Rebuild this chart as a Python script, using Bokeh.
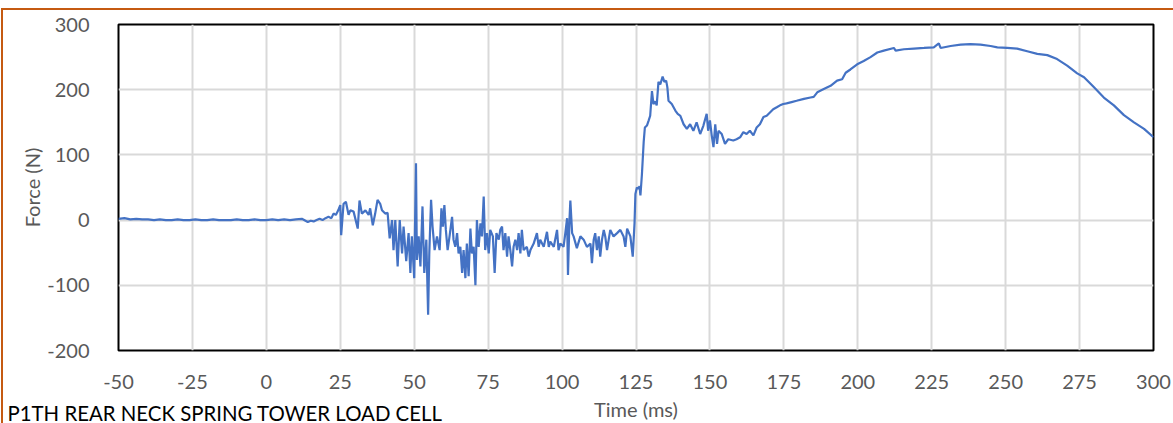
from bokeh.plotting import figure
from bokeh.models import FixedTicker, Range1d, Label
from bokeh.embed import file_html
from bokeh.resources import INLINE

# ---- data (time in ms, force in N) ----
time_ms = [
    -50, -48, -46, -44, -42, -40, -38, -36, -34, -32, -30, -28, -26, -24, -22, -20,
    -18, -16, -14, -12, -10, -8, -6, -4, -2, 0, 2, 4, 6, 8, 10, 12, 14, 15, 16, 17,
    18, 19, 20, 21, 22,
    22.7, 23.5, 24.3, 25.0, 25.3, 26.1, 26.9, 27.8, 28.4, 29.5, 30.9, 31.5, 32.3,
    33.5, 34.6, 35.1, 36.0, 36.8, 37.6, 38.5, 39.1, 40.2, 41.0, 41.7, 42.5, 43.0,
    43.6, 44.4, 45.1, 45.9, 46.4, 47.3, 48.1, 48.7, 49.2, 50.0, 50.6, 50.9, 51.5,
    52.1, 52.8, 53.4, 54.1, 54.7, 55.1, 55.7, 56.2, 56.9, 57.7, 58.6, 59.2, 59.7,
    60.2, 60.7, 61.3, 62.0, 62.8, 63.3, 63.9, 64.5, 65.0, 65.6, 66.2, 66.7, 67.3,
    67.8, 68.4, 69.0, 69.5, 70.1, 70.7, 71.2, 71.8, 72.4, 72.9, 73.5, 74.0, 74.6,
    75.2, 75.7, 76.6, 77.2, 77.8, 78.6, 79.1, 79.7, 80.2, 80.8, 81.4, 81.9, 82.5,
    83.1, 83.6, 84.2, 84.8, 85.3, 85.9, 86.4, 87.0, 88.1, 88.7, 89.3, 90.4, 91.5,
    92.1, 92.6, 93.8, 94.9, 95.5, 96.0, 97.2, 98.3, 98.8, 99.4, 100.5, 101.1,
    101.7, 102.0, 102.5, 102.8, 103.4, 103.9, 105.0, 106.2, 107.3, 108.4, 109.6,
    110.1, 110.7, 111.2, 111.8, 112.4, 112.9, 113.5, 114.1, 114.6, 115.2, 116.3,
    117.4, 118.6, 119.7, 120.8, 121.4, 122.0, 123.1, 123.9,
    124.5, 124.8, 125.3, 125.7, 126.2, 126.5, 127.0, 127.6, 128.0, 128.7, 129.3,
    129.8, 130.4, 130.9, 131.5, 132.0, 132.6, 133.2, 134.0, 134.6, 135.2, 135.6,
    136.0, 137.1, 138.3, 139.1, 140.0, 141.1, 142.2, 143.3, 144.4, 145.5, 146.7,
    147.8, 148.9, 149.4, 150.0, 150.6, 151.2, 151.8, 152.4, 152.9, 154.0, 155.1,
    156.2, 157.9, 159.0, 160.2, 161.3, 162.4, 163.5, 164.7, 165.8, 166.9, 168.1,
    169.2, 170.3, 171.4, 172.6, 173.7, 174.8, 175.9, 177.6, 179.3, 181.8, 184.0,
    185.1, 186.3, 188.5, 190.8, 193.0, 194.7, 195.9, 197.5, 199.8, 202.0, 204.3,
    206.6, 208.8, 212.2, 212.8, 215.6, 219.0, 222.4, 225.7, 227.4, 228.0, 231.4,
    234.8, 238.1, 241.5, 244.9, 247.2, 250.5, 253.9, 257.3, 260.7, 264.1, 267.4,
    270.8, 274.2, 276.5, 279.8, 283.2, 286.6, 290.0, 293.4, 296.8, 300.0,
]
force_n = [
    2, 3, 1, 2, 1, 1, 0, 1, 0, 0, 1, 0, 0, 1, 0, 0,
    1, 0, 0, 0, 1, 0, 0, 1, 0, 0, 1, 0, 1, 0, 1, 2, -3, -1, -2, 0,
    2, 0, 3, 5, 3,
    10, 8, 15, 23, -23, 25, 28, 8, 15, 13, -13, 30, 10,
    15, 8, 18, -8, 10, 31, 25, 15, 10, 11, -28, 0, -46,
    0, -71, 0, -51, -10, -63, -20, -81, -25, -89, 87, -61, -25,
    -71, 21, -81, -30, -145, -51, 31, -10, -46, -25, -46, 18, -10,
    23, -15, -46, -23, 5, -30, -41, -20, -51, -41, -81, -46, -89,
    -36, -86, -13, -51, -41, -100, 0, -41, -5, -25, 36, -46, -20,
    -51, -15, -25, -81, -20, -30, -15, -10, -46, -20, -56, -25, -46,
    -71, -41, -30, -46, -20, -51, -15, -46, -41, -56, -46, -36, -20,
    -41, -30, -41, -18, -41, -33, -41, -15, -46, -36, -41, -20,
    3, -84, 0, 30, -20, -25, -43, -25, -30, -41, -36,
    -66, -30, -20, -46, -25, -56, -30, -15, -25, -46, -15,
    -25, -20, -15, -25, -41, -13, -25, -56,
    -5, 40, 50, 48, 52, 38, 70, 120, 142, 145, 153,
    160, 198, 178, 182, 176, 212, 208, 220, 212, 214, 204,
    183, 178, 168, 163, 160, 147, 140, 147, 137, 150, 132,
    145, 163, 137, 153, 130, 112, 147, 117, 137, 132, 117,
    124, 122, 124, 127, 135, 132, 137, 130, 142, 147, 158,
    160, 165, 170, 173, 176, 178, 179, 181, 183, 186, 188,
    189, 196, 201, 206, 214, 216, 226, 231, 239, 244, 250,
    257, 260, 264, 260, 262, 263, 264, 265, 271, 264, 267,
    269, 270, 269, 267, 265, 264, 263, 259, 255, 253, 247,
    237, 225, 219, 204, 188, 176, 161, 150, 140, 127,
]

x_ticks = [-50, -25, 0, 25, 50, 75, 100, 125, 150, 175, 200, 225, 250, 275, 300]
y_ticks = [-200, -100, 0, 100, 200, 300]

chart_title = "P1TH REAR NECK SPRING TOWER LOAD CELL"
x_title = "Time (ms)"
y_title = "Force (N)"

FONT = "Lato"
GRAY = "#595959"
ORANGE = "#C55A11"

p = figure(
    width=1173, height=423,
    output_backend="svg", toolbar_location=None,
    x_range=Range1d(-50, 300), y_range=Range1d(-200, 300),
    min_border_left=118, min_border_right=20, min_border_top=23, min_border_bottom=72,
)
p.styles = {
    "box-shadow": (
        f"inset 0 8px 0 0 white, inset 1px 0 0 0 white, "
        f"inset 0 10px 0 0 {ORANGE}, inset 3px 0 0 0 {ORANGE}"
    ),
}

p.line(time_ms, force_n, line_color="#4472C4", line_width=2.2)

p.outline_line_color = "black"
p.outline_line_width = 2
p.background_fill_color = "white"
p.border_fill_color = None

for ax in (p.xaxis[0], p.yaxis[0]):
    ax.axis_line_color = None
    ax.major_tick_line_color = None
    ax.minor_tick_line_color = None
    ax.major_label_text_font = FONT
    ax.major_label_text_font_size = "20px"
    ax.major_label_text_color = GRAY
    ax.axis_label_text_font = FONT
    ax.axis_label_text_font_size = "20px"
    ax.axis_label_text_color = GRAY
    ax.axis_label_text_font_style = "normal"

p.xaxis.ticker = FixedTicker(ticks=x_ticks)
p.yaxis.ticker = FixedTicker(ticks=y_ticks)
p.xaxis.major_label_overrides = {t: str(t) for t in x_ticks}
p.yaxis.major_label_overrides = {t: str(t) for t in y_ticks}
p.xaxis.major_label_standoff = 18
p.yaxis.major_label_standoff = 23
p.xaxis.axis_label = x_title
p.yaxis.axis_label = y_title
p.xaxis.axis_label_standoff = 5
p.yaxis.axis_label_standoff = 0

p.xgrid.ticker = FixedTicker(ticks=x_ticks)
p.ygrid.ticker = FixedTicker(ticks=y_ticks)
p.xgrid.grid_line_color = "#D9D9D9"
p.ygrid.grid_line_color = "#D9D9D9"
p.xgrid.grid_line_width = 2
p.ygrid.grid_line_width = 2

# chart title sits in the bottom-left corner; kept in a side panel so it is not clipped to the frame
p.add_layout(Label(
    x=7, y=412, x_units="canvas", y_units="canvas", text=chart_title,
    text_font=FONT, text_font_size="20.4px", text_color="black",
    text_align="left", text_baseline="middle",
), "above")

open("out.html", "w").write(file_html(p, INLINE))
